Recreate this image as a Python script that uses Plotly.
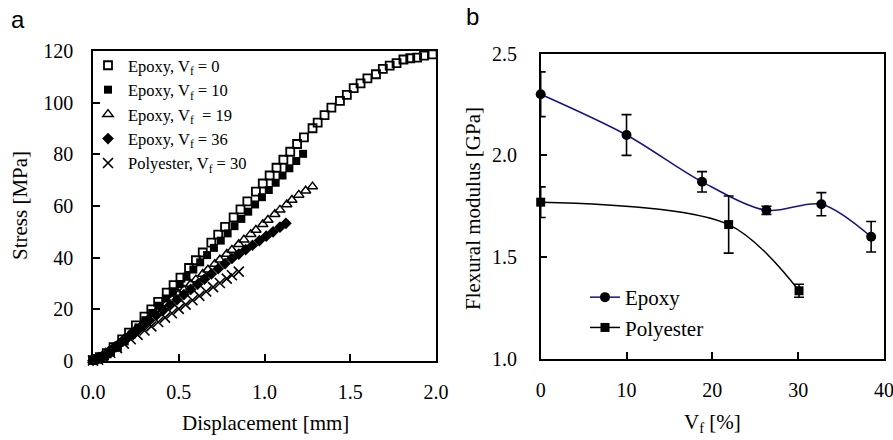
import plotly.graph_objects as go

W, H = 893, 440


def px(x):
    return x / W


def py(y):
    return 1 - y / H


# ---------------- data: panel a (stress vs displacement) ----------------
disp_ep0 = [0.00, 0.02, 0.04, 0.08, 0.12, 0.17, 0.21, 0.25, 0.30, 0.34, 0.38, 0.43, 0.47, 0.51,
            0.56, 0.60, 0.64, 0.69, 0.73, 0.77, 0.82, 0.86, 0.90, 0.95, 0.99, 1.03, 1.07, 1.11,
            1.15, 1.19, 1.23, 1.28, 1.31, 1.35, 1.39, 1.44, 1.48, 1.52, 1.56, 1.60, 1.65, 1.69,
            1.73, 1.77, 1.81, 1.85, 1.89, 1.93, 1.98]
stress_ep0 = [0.3, 0.8, 1.5, 3.0, 5.4, 8.4, 11.0, 13.8, 17.2, 20.0, 22.9, 26.5, 29.4, 32.3,
              36.0, 39.0, 42.0, 45.8, 48.9, 51.9, 55.6, 58.7, 61.8, 65.6, 68.7, 71.8, 74.8, 77.9,
              81.0, 84.0, 86.6, 90.1, 92.3, 95.2, 98.1, 100.7, 103.0, 105.6, 107.5, 109.4, 111.0, 113.1,
              114.3, 115.3, 116.7, 117.2, 117.4, 118.2, 118.7]

disp_ep10 = [0.01, 0.04, 0.07, 0.105, 0.145, 0.185, 0.225, 0.265, 0.305, 0.345, 0.385, 0.425, 0.465,
             0.505, 0.545, 0.585, 0.625, 0.665, 0.705, 0.745, 0.785, 0.825, 0.865, 0.905, 0.945,
             0.985, 1.025, 1.065, 1.105, 1.145, 1.185, 1.225]
stress_ep10 = [0.3, 0.9, 1.8, 3.2, 5.2, 7.6, 10.2, 13.0, 15.8, 18.6, 21.4, 24.2, 27.0,
               29.8, 32.6, 35.4, 38.2, 41.0, 43.8, 46.6, 49.4, 52.2, 55.0, 57.8, 60.6,
               63.4, 66.2, 69.0, 71.8, 74.6, 77.4, 80.2]

disp_ep19 = [0.00, 0.02, 0.05, 0.08, 0.11, 0.15, 0.18, 0.22, 0.25, 0.29, 0.32, 0.36, 0.39, 0.43,
             0.46, 0.50, 0.53, 0.57, 0.60, 0.64, 0.67, 0.71, 0.74, 0.78, 0.81, 0.85, 0.88, 0.92,
             0.95, 0.99, 1.02, 1.06, 1.09, 1.13, 1.16, 1.20, 1.24, 1.28]
stress_ep19 = [0.2, 0.5, 1.4, 2.8, 4.5, 6.8, 8.4, 10.6, 12.3, 14.4, 16.1, 18.3, 20.0, 22.2,
               23.8, 26.0, 27.6, 29.8, 31.5, 33.7, 35.3, 37.5, 39.2, 41.4, 43.0, 45.2, 46.9, 49.1,
               50.7, 52.9, 54.6, 56.8, 58.5, 60.6, 62.3, 64.3, 65.9, 67.5]

disp_ep36 = [0.00, 0.02, 0.05, 0.09, 0.13, 0.17, 0.21, 0.25, 0.29, 0.33, 0.37, 0.41, 0.45, 0.49,
             0.53, 0.57, 0.61, 0.65, 0.69, 0.73, 0.77, 0.81, 0.85, 0.89, 0.93, 0.97, 1.01, 1.05,
             1.09, 1.125]
stress_ep36 = [0.2, 0.5, 1.6, 3.5, 5.6, 7.6, 9.6, 11.6, 13.7, 15.7, 17.7, 19.7, 21.7, 23.7,
               25.7, 27.7, 29.7, 31.7, 33.7, 35.7, 37.7, 39.7, 41.4, 43.1, 44.8, 46.6, 48.3, 50.0,
               51.8, 53.3]

disp_pe30 = [0.00, 0.03, 0.06, 0.10, 0.14, 0.18, 0.22, 0.26, 0.30, 0.34, 0.38, 0.42, 0.46, 0.50,
             0.54, 0.58, 0.62, 0.66, 0.70, 0.74, 0.78, 0.81, 0.85]
stress_pe30 = [0.2, 0.5, 1.5, 3.2, 5.0, 6.7, 8.4, 10.1, 11.8, 13.4, 15.1, 16.8, 18.5, 20.2,
               21.8, 23.5, 25.2, 26.9, 28.6, 30.2, 31.9, 33.2, 34.6]

# ---------------- data: panel b (flexural modulus vs Vf) ----------------
vf_epoxy = [0, 10, 18.8, 26.3, 32.7, 38.5]
mod_epoxy = [2.30, 2.10, 1.87, 1.73, 1.76, 1.60]
err_epoxy = [0.11, 0.10, 0.05, 0.02, 0.057, 0.075]

vf_poly = [0, 21.9, 30.1]
mod_poly = [1.77, 1.66, 1.335]
err_poly = [0.075, 0.14, 0.032]

xticks_a = [0, 0.5, 1.0, 1.5, 2.0]
yticks_a = [0, 20, 40, 60, 80, 100, 120]
xticks_b = [0, 10, 20, 30, 40]
yticks_b = [1.0, 1.5, 2.0, 2.5]

SERIF = "Liberation Serif, Times New Roman, serif"
SANS = "Liberation Sans, Arial, sans-serif"
TICKFONT = dict(family=SERIF, size=20, color="black")

fig = go.Figure()

series_a = [
    (disp_ep0, stress_ep0, "Epoxy, V<sub>f</sub> = 0",
     dict(symbol="square-open", size=8, color="black", line=dict(width=1.8, color="black"))),
    (disp_ep10, stress_ep10, "Epoxy, V<sub>f</sub> = 10",
     dict(symbol="square", size=8, color="black", line=dict(width=0))),
    (disp_ep19, stress_ep19, "Epoxy, V<sub>f</sub>  = 19",
     dict(symbol="triangle-up-open", size=9, color="black", line=dict(width=1.5, color="black"))),
    (disp_ep36, stress_ep36, "Epoxy, V<sub>f</sub> = 36",
     dict(symbol="diamond", size=9, color="black", line=dict(width=0))),
    (disp_pe30, stress_pe30, "Polyester, V<sub>f</sub> = 30",
     dict(symbol="x-thin", size=10, color="black", line=dict(width=1.6, color="black"))),
]
for xs, ys, name, mk in series_a:
    fig.add_trace(go.Scatter(x=xs, y=ys, mode="markers", name=name, marker=mk,
                             xaxis="x", yaxis="y", legend="legend", cliponaxis=False))

fig.add_trace(go.Scatter(
    x=vf_epoxy, y=mod_epoxy, mode="lines+markers", name="Epoxy",
    line=dict(color="#141488", width=1.5, shape="spline", smoothing=0.9),
    marker=dict(symbol="circle", size=10, color="black"),
    error_y=dict(type="data", array=err_epoxy, color="black", thickness=1.6, width=5),
    xaxis="x2", yaxis="y2", legend="legend2", cliponaxis=False))
fig.add_trace(go.Scatter(
    x=vf_poly, y=mod_poly, mode="lines+markers", name="Polyester",
    line=dict(color="black", width=1.5, shape="spline", smoothing=0.9),
    marker=dict(symbol="square", size=9, color="black"),
    error_y=dict(type="data", array=err_poly, color="black", thickness=1.6, width=5),
    xaxis="x2", yaxis="y2", legend="legend2", cliponaxis=False))

axis_common = dict(showline=True, linecolor="black", linewidth=1.5, mirror=True,
                   ticks="inside", ticklen=7, tickwidth=1.5, tickcolor="black",
                   showgrid=False, zeroline=False, tickfont=TICKFONT, automargin=False,
                   ticklabeloverflow="allow")

fig.update_layout(
    template="none",
    width=W, height=H,
    margin=dict(l=0, r=0, t=0, b=0, autoexpand=False),
    paper_bgcolor="white", plot_bgcolor="white",
    font=dict(family=SERIF, color="black"),
    xaxis=dict(domain=[px(93), px(436)], range=[0, 2], tickvals=xticks_a, tickformat=".1f",
               anchor="y", ticklabelstandoff=12, **axis_common),
    yaxis=dict(domain=[py(361), py(51)], range=[0, 120], tickvals=yticks_a,
               anchor="x", ticklabelstandoff=14, **axis_common),
    xaxis2=dict(domain=[px(540.7), px(884)], range=[0, 40], tickvals=xticks_b,
                anchor="y2", ticklabelstandoff=12, **axis_common),
    yaxis2=dict(domain=[py(359), py(53.5)], range=[1.0, 2.5], tickvals=yticks_b, tickformat=".1f",
                anchor="x2", ticklabelstandoff=18, **axis_common),
    legend=dict(x=px(88), y=py(48), xanchor="left", yanchor="top",
                font=dict(family=SERIF, size=16.5, color="black"),
                bgcolor="rgba(0,0,0,0)", borderwidth=0, tracegroupgap=0),
    legend2=dict(x=px(585), y=py(277), xanchor="left", yanchor="top",
                 font=dict(family=SERIF, size=21, color="black"),
                 bgcolor="rgba(0,0,0,0)", borderwidth=0),
    showlegend=True,
    annotations=[
        dict(text="a", x=px(9), y=py(19), xref="paper", yref="paper", xanchor="left",
             yanchor="middle", showarrow=False, font=dict(family=SANS, size=24, color="black")),
        dict(text="b", x=px(464), y=py(16), xref="paper", yref="paper", xanchor="left",
             yanchor="middle", showarrow=False, font=dict(family=SANS, size=24, color="black")),
        dict(text="Stress [MPa]", x=px(20), y=py(206), xref="paper", yref="paper",
             xanchor="center", yanchor="middle",
             textangle=-90, showarrow=False, font=dict(family=SERIF, size=21, color="black")),
        dict(text="Displacement [mm]", x=px(265), y=py(423), xref="paper", yref="paper",
             xanchor="center", yanchor="middle",
             showarrow=False, font=dict(family=SERIF, size=21, color="black")),
        dict(text="Flexural modulus [GPa]", x=px(473), y=py(209), xref="paper", yref="paper",
             xanchor="center", yanchor="middle",
             textangle=-90, showarrow=False, font=dict(family=SERIF, size=21, color="black")),
        dict(text="V<sub>f</sub> [%]", x=px(712), y=py(423), xref="paper", yref="paper",
             xanchor="center", yanchor="middle",
             showarrow=False, font=dict(family=SERIF, size=21, color="black")),
    ],
)

fig.write_html(
    "out.html",
    config={"displayModeBar": False},
    post_script="document.body.style.margin='0';document.body.style.overflow='hidden';",
)
